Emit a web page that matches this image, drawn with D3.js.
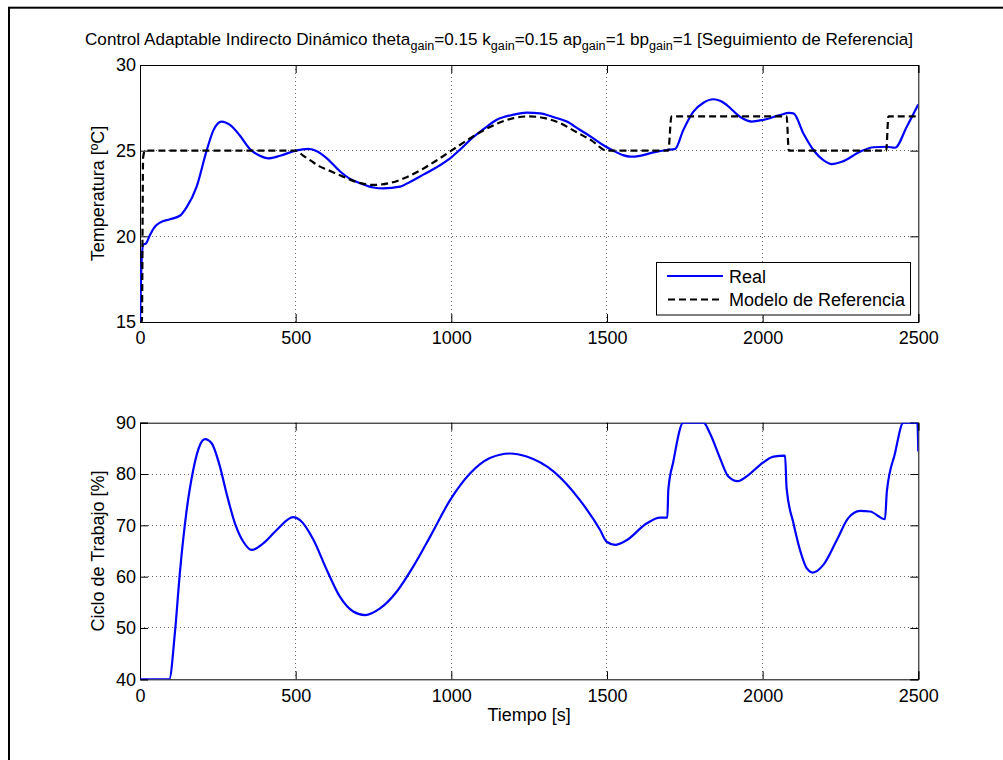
<!DOCTYPE html>
<html>
<head>
<meta charset="utf-8">
<script src="https://cdn.jsdelivr.net/npm/d3@7"></script>
<style>
  html, body { margin: 0; padding: 0; background: #fff; }
  svg { display: block; }
  text { font-family: "Liberation Sans", Arial, Helvetica, sans-serif; fill: #000; }
</style>
</head>
<body>
<script>
// ---------- data ----------
const realTime = [0,4,10,20,30,45,64,96,128,150,182,214,236,262,289,320,353,385,412,450,500,541,570,600,642,680,707,750,782,835,870,910,950,996,1030,1071,1110,1146,1200,1242,1285,1330,1371,1410,1456,1490,1520,1550,1574,1606,1650,1692,1719,1745,1777,1810,1842,1865,1885,1927,1965,2002,2056,2085,2099,2131,2163,2195,2222,2254,2313,2356,2399,2425,2463,2500];
const realTemp = [15,18,19.5,19.6,20.0,20.5,20.8,21.0,21.2,21.7,22.9,25.0,26.2,26.7,26.5,25.9,25.1,24.7,24.55,24.7,25.0,25.1,24.95,24.55,23.8,23.3,23.1,22.85,22.8,22.9,23.2,23.6,24.0,24.55,25.1,25.8,26.35,26.8,27.1,27.22,27.18,26.95,26.7,26.25,25.72,25.3,25.0,24.75,24.65,24.7,24.9,25.04,25.1,26.2,27.27,27.8,28.0,27.9,27.66,26.98,26.7,26.8,27.08,27.2,27.18,26.0,25.04,24.45,24.22,24.35,24.94,25.2,25.23,25.17,26.4,27.7];

const refTime = [0,6,10,16,500,525,550,575,600,650,700,750,800,850,900,950,1000,1050,1100,1150,1200,1250,1300,1350,1400,1450,1500,1697,1707,2077,2084,2397,2404,2500];
const refTemp = [15,15,24.6,25,25,24.7,24.4,24.1,23.9,23.5,23.15,23.0,23.1,23.4,23.85,24.4,25.0,25.6,26.15,26.6,26.9,27.0,26.9,26.6,26.1,25.6,25.0,25,27,27,25,25,27,27];

const dutyTime = [0,94,112,128,150,171,193,209,230,257,278,305,332,359,396,439,492,514,557,600,642,685,723,771,825,878,932,996,1060,1124,1188,1242,1328,1413,1478,1499,1526,1563,1628,1670,1694,1697,1713,1745,1810,1831,1863,1890,1919,1954,1992,2035,2072,2077,2099,2120,2142,2161,2195,2238,2275,2313,2345,2393,2399,2425,2452,2497,2500];
const dutyPct = [40,40,49,60.7,73,80.8,85.7,86.8,86,81.4,76.2,70.4,66.8,65.2,66.5,69.1,71.6,71.0,67.2,61.3,56.1,53.2,52.5,53.8,57.1,62.0,67.8,74.9,80.1,83.1,84.0,83.4,80.5,74.9,69.1,66.8,66.2,67.1,70.4,71.5,71.5,76.9,82.4,90,90,87.9,83.1,79.5,78.6,79.8,81.8,83.4,83.6,77.2,70.4,65.2,61.6,60.8,62.3,67.1,71.4,72.8,72.7,71.2,76.6,84.0,90,90,84.4];

const xTicks = [0,500,1000,1500,2000,2500];
const tempTicks = [15,20,25,30];
const dutyTicks = [40,50,60,70,80,90];
const legendLabels = ["Real","Modelo de Referencia"];

// ---------- layout ----------
const W = 1003, H = 760;
const svg = d3.select("body").append("svg").attr("width", W).attr("height", H);
svg.append("rect").attr("width", W).attr("height", H).attr("fill", "#fff");
// figure frame
svg.append("rect").attr("x", 9).attr("y", 7.7).attr("width", W + 20).attr("height", H + 20)
  .attr("fill", "none").attr("stroke", "#000").attr("stroke-width", 2);

const x0 = 140, x1 = 918.3;
const top1 = 65, bot1 = 322;
const top2 = 422.7, bot2 = 679.3;

const x = d3.scaleLinear().domain([0, 2500]).range([x0, x1]);
const yT = d3.scaleLinear().domain([15, 30]).range([bot1, top1]);
const yD = d3.scaleLinear().domain([40, 90]).range([bot2, top2]);

const FS = 18;

function drawAxes(y, yticks, top, bot, id) {
  const g = svg.append("g");
  // grid
  g.selectAll(".gx").data(xTicks.slice(1, -1)).enter().append("line")
    .attr("x1", d => x(d)).attr("x2", d => x(d)).attr("y1", top).attr("y2", bot)
    .attr("stroke", "#666").attr("stroke-width", 1).attr("stroke-dasharray", "1,3").attr("shape-rendering", "crispEdges");
  g.selectAll(".gy").data(yticks.slice(1, -1)).enter().append("line")
    .attr("y1", d => y(d)).attr("y2", d => y(d)).attr("x1", x0).attr("x2", x1)
    .attr("stroke", "#666").attr("stroke-width", 1).attr("stroke-dasharray", "1,3").attr("shape-rendering", "crispEdges");
  // axes with inward ticks
  const axB = d3.axisBottom(x).tickValues(xTicks).tickSize(-8).tickPadding(9.5).tickFormat(d3.format("d"));
  const axT = d3.axisTop(x).tickValues(xTicks).tickSize(-8).tickFormat("");
  const axL = d3.axisLeft(y).tickValues(yticks).tickSize(-8).tickPadding(4).tickFormat(d3.format("d"));
  const axR = d3.axisRight(y).tickValues(yticks).tickSize(-8).tickFormat("");
  const gb = svg.append("g").attr("transform", `translate(0,${bot})`).call(axB);
  const gt = svg.append("g").attr("transform", `translate(0,${top})`).call(axT);
  const gl = svg.append("g").attr("transform", `translate(${x0},0)`).call(axL);
  const gr = svg.append("g").attr("transform", `translate(${x1},0)`).call(axR);
  [gb, gt, gl, gr].forEach(a => {
    a.select(".domain").attr("stroke", "#000").attr("stroke-width", 1);
    a.selectAll(".tick line").attr("stroke", "#000");
    a.selectAll("text").attr("font-size", FS).attr("font-family", '"Liberation Sans", Arial, sans-serif').attr("fill", "#000");
  });
  // clip
  svg.append("clipPath").attr("id", id).append("rect")
    .attr("x", x0).attr("y", top).attr("width", x1 - x0).attr("height", bot - top);
}

drawAxes(yT, tempTicks, top1, bot1, "clip1");
drawAxes(yD, dutyTicks, top2, bot2, "clip2");

// ---------- lines ----------
const realData = realTime.map((t, i) => [t, realTemp[i]]);
const refData = refTime.map((t, i) => [t, refTemp[i]]);
const dutyData = dutyTime.map((t, i) => [t, dutyPct[i]]);

const lineT = d3.line().x(d => x(d[0])).y(d => yT(d[1])).curve(d3.curveMonotoneX);
const lineRef = d3.line().x(d => x(d[0])).y(d => yT(d[1])).curve(d3.curveMonotoneX);
const lineD = d3.line().x(d => x(d[0])).y(d => yD(d[1])).curve(d3.curveMonotoneX);

svg.append("path").datum(realData).attr("d", lineT).attr("clip-path", "url(#clip1)")
  .attr("fill", "none").attr("stroke", "#0000ff").attr("stroke-width", 2.2).attr("stroke-linejoin", "round");
svg.append("path").datum(refData).attr("d", lineRef).attr("clip-path", "url(#clip1)")
  .attr("fill", "none").attr("stroke", "#000").attr("stroke-width", 2.2).attr("stroke-dasharray", "7,4");
svg.append("path").datum(dutyData).attr("d", lineD).attr("clip-path", "url(#clip2)")
  .attr("fill", "none").attr("stroke", "#0000ff").attr("stroke-width", 2.2).attr("stroke-linejoin", "round");

// ---------- legend ----------
const lg = svg.append("g");
lg.append("rect").attr("x", 656.5).attr("y", 262.5).attr("width", 254).attr("height", 52.5)
  .attr("fill", "#fff").attr("stroke", "#000").attr("stroke-width", 1);
lg.append("line").attr("x1", 667).attr("x2", 723).attr("y1", 276).attr("y2", 276)
  .attr("stroke", "#0000ff").attr("stroke-width", 2.2);
lg.append("line").attr("x1", 668).attr("x2", 723).attr("y1", 299.5).attr("y2", 299.5)
  .attr("stroke", "#000").attr("stroke-width", 2.2).attr("stroke-dasharray", "7,4");
lg.append("text").attr("x", 729).attr("y", 282.5).attr("font-size", FS).text(legendLabels[0]);
lg.append("text").attr("x", 729).attr("y", 306).attr("font-size", FS).text(legendLabels[1]);

// ---------- labels ----------
svg.append("text").attr("transform", `translate(104,${(top1 + bot1) / 2}) rotate(-90)`)
  .attr("text-anchor", "middle").attr("font-size", FS).text("Temperatura [ºC]");
svg.append("text").attr("transform", `translate(104,${(top2 + bot2) / 2}) rotate(-90)`)
  .attr("text-anchor", "middle").attr("font-size", FS).text("Ciclo de Trabajo [%]");
svg.append("text").attr("x", (x0 + x1) / 2).attr("y", 721)
  .attr("text-anchor", "middle").attr("font-size", FS).text("Tiempo [s]");

// title with subscripts
const titleParts = [
  ["Control Adaptable Indirecto Dinámico theta", false], ["gain", true],
  ["=0.15 k", false], ["gain", true],
  ["=0.15 ap", false], ["gain", true],
  ["=1 bp", false], ["gain", true],
  ["=1 [Seguimiento de Referencia]", false]
];
const title = svg.append("text").attr("x", 0).attr("y", 45).attr("font-size", 17);
let prevSub = false;
titleParts.forEach(([s, sub]) => {
  const dy = sub ? 5 : (prevSub ? -5 : 0);
  title.append("tspan").attr("font-size", sub ? 12.5 : 17).attr("dy", dy).text(s);
  prevSub = sub;
});
// place title to span measured extent (x ≈ 84 .. 914)
const bb = title.node().getBBox();
const targetL = 85, targetR = 914;
const sx = (targetR - targetL) / bb.width;
title.attr("transform", `translate(${targetL - bb.x * sx},0) scale(${sx},1)`);
</script>
</body>
</html>
